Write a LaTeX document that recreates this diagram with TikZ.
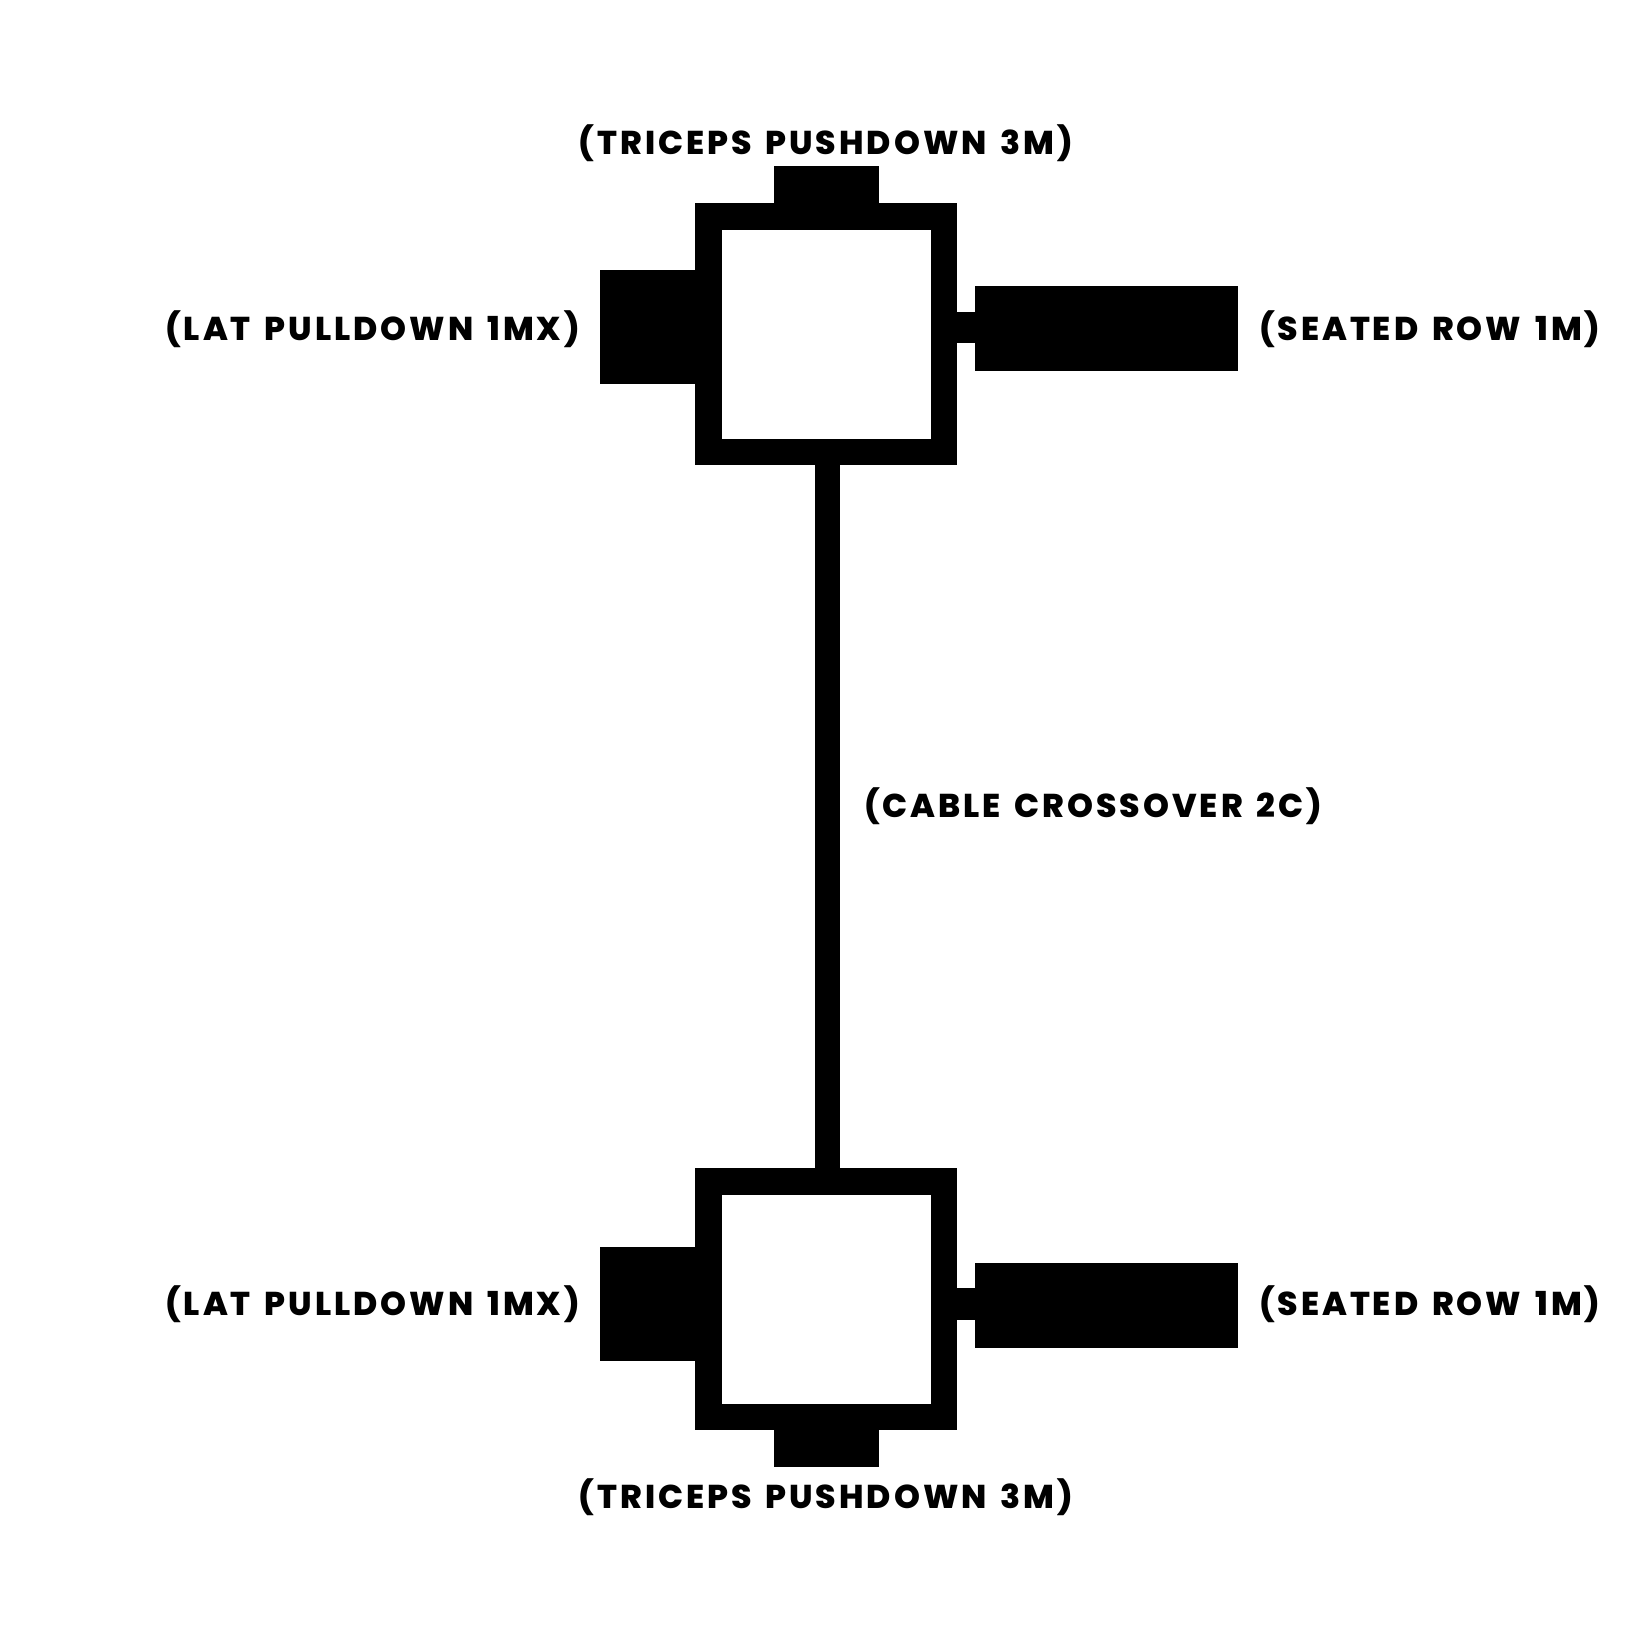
\documentclass[tikz,border=0pt]{standalone}
\usepackage{fontspec}
\setmainfont{Poppins}[BoldFont={* ExtraBold}, LetterSpace=9, WordSpace=1.5]
\begin{document}
\begin{tikzpicture}[x=1pt,y=-1pt,
  frame/.style={draw=black, line width=26.5pt, fill=white, minimum size=235.5pt, inner sep=0pt, outer sep=0pt},
  blk/.style={fill=black, inner sep=0pt, outer sep=0pt},
  lbl/.style={inner sep=0pt, font=\fontsize{33}{38}\selectfont\bfseries},
  link/.style={draw=black, line width=25pt}]
\useasboundingbox[fill=white] (0,0) rectangle (1652,1652);
% top unit
\node[blk, minimum width=105pt, minimum height=114pt] (tl) at (652.5,327) {};
\node[blk, minimum width=30pt, minimum height=31pt] (ts) at (966,327.5) {};
\node[blk, minimum width=263pt, minimum height=85pt] (tr) at (1106.5,328.5) {};
\node[blk, minimum width=105pt, minimum height=45pt] (tt) at (826.5,188) {};
\node[frame] (top) at (826,334) {};
% bottom unit
\node[blk, minimum width=105pt, minimum height=114pt] (bl) at (652.5,1304) {};
\node[blk, minimum width=30pt, minimum height=32pt] (bs) at (966,1304) {};
\node[blk, minimum width=263pt, minimum height=85pt] (br) at (1106.5,1305.5) {};
\node[blk, minimum width=105pt, minimum height=45pt] (bb) at (826.5,1444.5) {};
\node[frame] (bot) at (826,1299) {};
% connector
\draw[link] ([xshift=1.5pt]top.south) -- ([xshift=1.5pt,yshift=-13pt]bot.north);
% labels
\node[lbl] (ttxt) at (826,143) {(TRICEPS PUSHDOWN 3M)};
\node[lbl, anchor=east] (tltxt) at (580,329) {(LAT PULLDOWN 1MX)};
\node[lbl, anchor=west] (trtxt) at (1259,329) {(SEATED ROW 1M)};
\node[lbl, anchor=west] (ctxt) at (864,806) {(CABLE CROSSOVER 2C)};
\node[lbl, anchor=east] (bltxt) at (580,1304) {(LAT PULLDOWN 1MX)};
\node[lbl, anchor=west] (brtxt) at (1259,1304) {(SEATED ROW 1M)};
\node[lbl] (btxt) at (826,1497) {(TRICEPS PUSHDOWN 3M)};
\end{tikzpicture}
\end{document}
